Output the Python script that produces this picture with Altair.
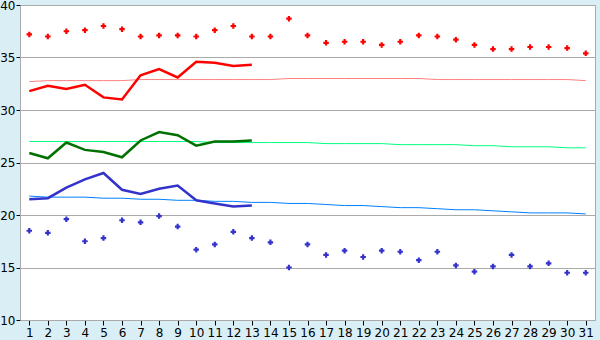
import altair as alt
import pandas as pd

days = list(range(1, 32))

rec_max = [37.2, 37.0, 37.5, 37.6, 38.0, 37.7, 37.0, 37.1, 37.1, 37.0, 37.6, 38.0, 37.0, 37.0, 38.7,
           37.1, 36.4, 36.5, 36.5, 36.2, 36.5, 37.1, 37.0, 36.7, 36.2, 35.8, 35.8, 36.0, 36.0, 35.9, 35.4]
rec_min = [18.5, 18.3, 19.6, 17.5, 17.8, 19.5, 19.3, 19.9, 18.9, 16.7, 17.2, 18.4, 17.8, 17.4, 15.0,
           17.2, 16.2, 16.6, 16.0, 16.6, 16.5, 15.7, 16.5, 15.2, 14.6, 15.1, 16.2, 15.1, 15.4, 14.5, 14.5]

norm_max = [32.7, 32.8, 32.8, 32.8, 32.8, 32.8, 32.9, 32.9, 32.9, 32.9, 32.9, 32.9, 32.9, 32.9, 33.0,
            33.0, 33.0, 33.0, 33.0, 33.0, 33.0, 33.0, 32.9, 32.9, 32.9, 32.9, 32.9, 32.9, 32.9, 32.9, 32.8]
norm_mean = [27.0, 27.0, 27.0, 27.0, 27.0, 27.0, 27.0, 27.0, 27.0, 27.0, 26.9, 26.9, 26.9, 26.9, 26.9,
             26.9, 26.8, 26.8, 26.8, 26.8, 26.7, 26.7, 26.7, 26.7, 26.6, 26.6, 26.5, 26.5, 26.5, 26.4, 26.4]
norm_min = [21.8, 21.7, 21.7, 21.7, 21.6, 21.6, 21.5, 21.5, 21.4, 21.4, 21.3, 21.3, 21.2, 21.2, 21.1,
            21.1, 21.0, 20.9, 20.9, 20.8, 20.7, 20.7, 20.6, 20.5, 20.5, 20.4, 20.3, 20.2, 20.2, 20.2, 20.1]

obs_days = list(range(1, 14))
obs_max = [31.8, 32.3, 32.0, 32.4, 31.2, 31.0, 33.3, 33.9, 33.1, 34.6, 34.5, 34.2, 34.3]
obs_mean = [25.9, 25.4, 26.9, 26.2, 26.0, 25.5, 27.1, 27.9, 27.6, 26.6, 27.0, 27.0, 27.1]
obs_min = [21.5, 21.6, 22.6, 23.4, 24.0, 22.4, 22.0, 22.5, 22.8, 21.4, 21.1, 20.8, 20.9]

full = pd.DataFrame({"day": days, "rec_max": rec_max, "rec_min": rec_min,
                     "norm_max": norm_max, "norm_mean": norm_mean, "norm_min": norm_min})
obs = pd.DataFrame({"day": obs_days, "obs_max": obs_max, "obs_mean": obs_mean, "obs_min": obs_min})

FONT = "DejaVu Sans"

xs = alt.X("day:Q", scale=alt.Scale(domain=[0.5, 31.5], nice=False, zero=False),
           axis=alt.Axis(values=days, title=None, grid=False, labelFontSize=12, labelFont=FONT,
                         labelColor="black", tickColor="black", tickSize=5, domainColor="#aaaaaa",
                         labelPadding=2, labelFlush=False))
ys = alt.Y("v:Q", scale=alt.Scale(domain=[10, 40], nice=False, zero=False),
           axis=alt.Axis(values=[10, 15, 20, 25, 30, 35, 40], title=None, grid=True, gridColor="#aaaaaa",
                         labelFontSize=12, labelFont=FONT, labelColor="black", tickColor="black",
                         tickSize=4, domainColor="#aaaaaa", labelPadding=1))

def line(df, col, color, width):
    return alt.Chart(df).transform_calculate(v=f"datum.{col}").mark_line(
        color=color, strokeWidth=width, interpolate="linear").encode(x=xs, y=ys)

def pts(df, col, color):
    return alt.Chart(df).transform_calculate(v=f"datum.{col}").mark_point(
        shape="cross", filled=True, color=color, size=30, opacity=1).encode(x=xs, y=ys)

chart = alt.layer(
    line(full, "norm_max", "#ff8080", 1),
    line(full, "norm_mean", "#00ff80", 1),
    line(full, "norm_min", "#0080ff", 1),
    line(obs, "obs_max", "#ff0000", 2.5),
    line(obs, "obs_mean", "#007000", 2.5),
    line(obs, "obs_min", "#3333cc", 2.5),
    pts(full, "rec_max", "#ff0000"),
    pts(full, "rec_min", "#3333cc"),
).properties(
    width=575, height=315,
    autosize=alt.AutoSizeParams(type="none"),
    padding={"left": 20, "top": 5, "right": 5, "bottom": 20},
    background="#daeef5",
).configure_view(fill="white", stroke="#aaaaaa", strokeWidth=1)

chart.save("out.html", embed_options={"renderer": "svg", "actions": False})
